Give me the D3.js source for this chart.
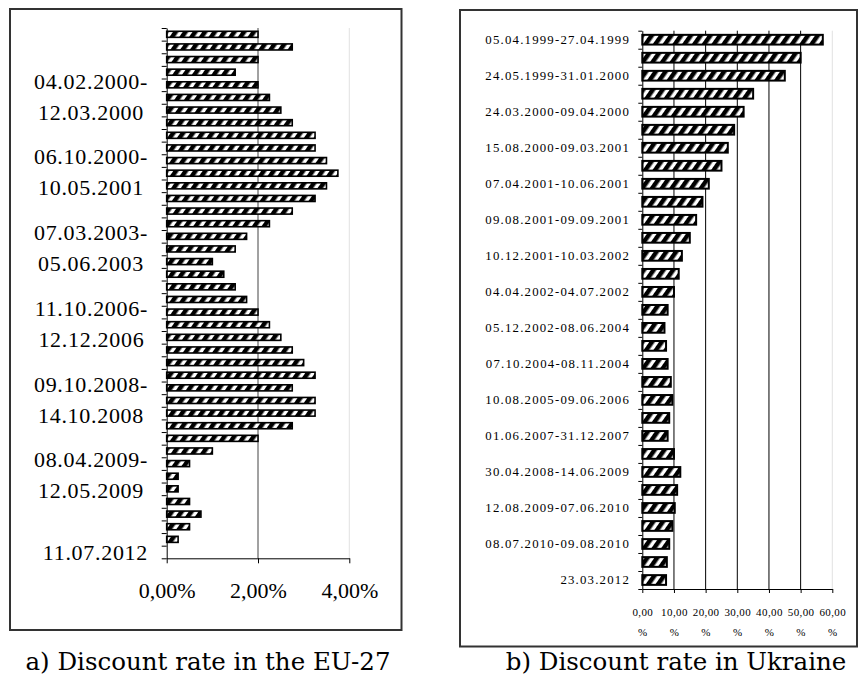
<!DOCTYPE html>
<html>
<head>
<meta charset="utf-8">
<script src="https://cdn.jsdelivr.net/npm/d3@7"></script>
<style>
  body { margin: 0; background: #fff; }
  svg text { font-family: "Liberation Serif", "Times New Roman", serif; fill: #000; }
</style>
</head>
<body>
<svg id="chart" width="866" height="684"></svg>
<script>
// EU-27 discount rate, % (top to bottom as drawn)
const euRates = [2.0, 2.75, 2.0, 1.5, 2.0, 2.25, 2.5, 2.75, 3.25, 3.25, 3.5, 3.75, 3.5, 3.25,
  2.75, 2.25, 1.75, 1.5, 1.0, 1.25, 1.5, 1.75, 2.0, 2.25, 2.5, 2.75, 3.0, 3.25, 2.75, 3.25,
  3.25, 2.75, 2.0, 1.0, 0.5, 0.25, 0.25, 0.5, 0.75, 0.5, 0.25, 0];
// only every 6th category carries a label
const euLabels = ["04.02.2000-12.03.2000", "06.10.2000-10.05.2001", "07.03.2003-05.06.2003",
  "11.10.2006-12.12.2006", "09.10.2008-14.10.2008", "08.04.2009-12.05.2009", "11.07.2012"];
const euTicks = [0, 2, 4];

// Ukraine discount rate, %
const uaRates = [57, 50, 45, 35, 32, 29, 27, 25, 21, 19, 17, 15, 12.5, 11.5, 10, 8, 7, 7.5, 8,
  9, 9.5, 8.5, 8, 10, 12, 11, 10.25, 9.5, 8.5, 7.75, 7.5];
// every 2nd category carries a label
const uaLabels = ["05.04.1999-27.04.1999", "24.05.1999-31.01.2000", "24.03.2000-09.04.2000",
  "15.08.2000-09.03.2001", "07.04.2001-10.06.2001", "09.08.2001-09.09.2001",
  "10.12.2001-10.03.2002", "04.04.2002-04.07.2002", "05.12.2002-08.06.2004",
  "07.10.2004-08.11.2004", "10.08.2005-09.06.2006", "01.06.2007-31.12.2007",
  "30.04.2008-14.06.2009", "12.08.2009-07.06.2010", "08.07.2010-09.08.2010", "23.03.2012"];
const uaTicks = [0, 10, 20, 30, 40, 50, 60];

const captions = ["a) Discount rate in the EU-27", "b) Discount rate in Ukraine"];

const svg = d3.select("#chart");

// hatch fill used by all bars
const pat = svg.append("defs").append("pattern")
  .attr("id", "hatch")
  .attr("patternUnits", "userSpaceOnUse")
  .attr("width", 8)
  .attr("height", 8)
  .attr("patternTransform", "rotate(35)");
pat.append("rect").attr("width", 8).attr("height", 8).attr("fill", "#fff");
pat.append("rect").attr("width", 4.5).attr("height", 8).attr("fill", "#000");

// panel frames
svg.append("rect").attr("x", 10).attr("y", 9).attr("width", 391.5).attr("height", 621)
  .attr("fill", "none").attr("stroke", "#333").attr("stroke-width", 2);
svg.append("rect").attr("x", 460).attr("y", 10).attr("width", 397).attr("height", 636.5)
  .attr("fill", "none").attr("stroke", "#333").attr("stroke-width", 2);

function fmt(d) {
  return d.toFixed(2).replace(".", ",");
}

// ---------- panel a ----------
const eu = { left: 166.7, right: 349.3, top: 28, bottom: 558.3 };
const xEu = d3.scaleLinear().domain([0, 4]).range([eu.left, eu.right]);
const yEu = d3.scaleBand().domain(d3.range(euRates.length))
  .range([eu.top, eu.bottom]).paddingInner(0.52).paddingOuter(0.26);
const yEuLin = d3.scaleLinear().domain([0, euRates.length]).range([eu.top, eu.bottom]);

const gEu = svg.append("g");

gEu.selectAll(".grid")
  .data(euTicks.slice(1))
  .enter()
  .append("line")
  .attr("x1", d => xEu(d)).attr("x2", d => xEu(d))
  .attr("y1", eu.top).attr("y2", eu.bottom)
  .attr("stroke", (d, i) => i === 0 ? "#444" : "#e2e2e2")
  .attr("stroke-width", 1);

gEu.selectAll(".bar")
  .data(euRates.map((v, i) => ({ v, i })).filter(d => d.v > 0))
  .enter()
  .append("rect")
  .attr("x", xEu(0))
  .attr("y", d => yEu(d.i))
  .attr("width", d => xEu(d.v) - xEu(0))
  .attr("height", yEu.bandwidth())
  .attr("fill", "url(#hatch)")
  .attr("stroke", "#000")
  .attr("stroke-width", 1.6);

gEu.append("g")
  .attr("transform", `translate(${eu.left},0)`)
  .call(d3.axisLeft(yEuLin).tickValues(d3.range(euRates.length + 1)).tickFormat("").tickSize(5).tickSizeOuter(0))
  .call(g => g.selectAll("line,path").attr("stroke", "#000"));

gEu.append("g")
  .attr("transform", `translate(0,${eu.bottom})`)
  .call(d3.axisBottom(xEu).tickValues(euTicks).tickSize(5).tickSizeOuter(0).tickFormat(d => fmt(d) + "%"))
  .call(g => g.attr("font-family", null).attr("font-size", null))
  .call(g => g.selectAll("line,path").attr("stroke", "#000"))
  .call(g => g.selectAll("text")
    .attr("y", 32).attr("dy", "0.35em")
    .style("font-size", "22px"));

euLabels.forEach((lab, k) => {
  const idx = 5 + 6 * k;
  const cy = yEu(idx) + yEu.bandwidth() / 2;
  const parts = lab.split("-");
  const lines = parts.length > 1 ? [parts[0] + "-", parts[1]] : [lab];
  const offs = lines.length > 1 ? [-16.5, 14.5] : [0];
  const texts = lines.map((t, j) => gEu.append("text")
    .attr("y", cy + offs[j])
    .attr("dy", "0.35em")
    .attr("text-anchor", "middle")
    .style("font-size", "22px")
    .style("letter-spacing", "0.7px")
    .text(t));
  const maxW = d3.max(texts, t => t.node().getComputedTextLength());
  texts.forEach(t => t.attr("x", 148 - maxW / 2));
});

// ---------- panel b ----------
const ua = { left: 642.3, right: 832.3, top: 30.7, bottom: 589 };
const xUa = d3.scaleLinear().domain([0, 60]).range([ua.left, ua.right]);
const yUa = d3.scaleBand().domain(d3.range(uaRates.length))
  .range([ua.top, ua.bottom]).paddingInner(0.46).paddingOuter(0.23);
const yUaLin = d3.scaleLinear().domain([0, uaRates.length]).range([ua.top, ua.bottom]);

const gUa = svg.append("g");

gUa.selectAll(".grid")
  .data(uaTicks.slice(1))
  .enter()
  .append("line")
  .attr("x1", d => xUa(d)).attr("x2", d => xUa(d))
  .attr("y1", ua.top).attr("y2", ua.bottom)
  .attr("stroke", d => d === 60 ? "#e2e2e2" : "#000")
  .attr("stroke-width", 1);

gUa.selectAll(".bar")
  .data(uaRates.map((v, i) => ({ v, i })))
  .enter()
  .append("rect")
  .attr("x", xUa(0))
  .attr("y", d => yUa(d.i))
  .attr("width", d => xUa(d.v) - xUa(0))
  .attr("height", yUa.bandwidth())
  .attr("fill", "url(#hatch)")
  .attr("stroke", "#000")
  .attr("stroke-width", 2);

gUa.append("g")
  .attr("transform", `translate(${ua.left},0)`)
  .call(d3.axisLeft(yUaLin).tickValues(d3.range(uaRates.length + 1)).tickFormat("").tickSize(4).tickSizeOuter(0))
  .call(g => g.selectAll("line,path").attr("stroke", "#000"));

gUa.append("g")
  .attr("transform", `translate(0,${ua.bottom})`)
  .call(d3.axisBottom(xUa).tickValues(uaTicks).tickSize(4).tickSizeOuter(0).tickFormat(""))
  .call(g => g.attr("font-family", null).attr("font-size", null))
  .call(g => g.selectAll("line,path").attr("stroke", "#000"))
  .call(g => g.selectAll(".tick").each(function (d) {
    const t = d3.select(this).append("text")
      .attr("text-anchor", "middle")
      .style("font-size", "11px")
      .style("letter-spacing", "0.4px")
      .attr("fill", "#000");
    t.append("tspan").attr("x", 0).attr("y", 23).attr("dy", "0.35em").text(fmt(d));
    t.append("tspan").attr("x", 0).attr("y", 43).attr("dy", "0.35em").text("%");
  }));

uaLabels.forEach((lab, k) => {
  const idx = 2 * k;
  gUa.append("text")
    .attr("x", 630)
    .attr("y", yUa(idx) + yUa.bandwidth() / 2)
    .attr("dy", "0.35em")
    .attr("text-anchor", "end")
    .style("font-size", "12.8px")
    .style("letter-spacing", "1.2px")
    .text(lab);
});

// ---------- captions ----------
svg.selectAll(".caption")
  .data(captions)
  .enter()
  .append("text")
  .attr("x", (d, i) => i === 0 ? 208 : 676)
  .attr("y", 661)
  .attr("dy", "0.35em")
  .attr("text-anchor", "middle")
  .style("font-family", "'DejaVu Serif', serif")
  .style("font-size", "24.5px")
  .text(d => d);
</script>
</body>
</html>
